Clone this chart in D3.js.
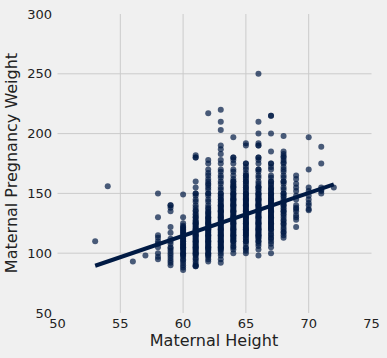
<!DOCTYPE html>
<html>
<head>
<meta charset="utf-8">
<script src="https://cdn.jsdelivr.net/npm/d3@7"></script>
<style>
  body { margin: 0; background: #f0f0f0; }
  text { font-family: "DejaVu Sans", sans-serif; fill: #222; }
</style>
</head>
<body>
<div id="chart"></div>
<script>
// maternal height (inches) and the pregnancy weights (lbs) seen in each column
const heights = [53, 54, 56, 57, 58, 59, 60, 61, 62, 63, 64, 65, 66, 67, 68, 69, 70, 71, 72];
const weights = [
  [110],
  [156],
  [93],
  [98],
  [150, 130, 115, 113, 110, 108, 105, 100, 97, 95],
  [140, 140, 138, 135, 122, 117, 112, 110, 108, 105, 104, 102, 100, 98, 96, 94, 92, 90],
  [149, 130, 125, 123, 122, 121, 120, 119, 118, 117, 116, 115, 114, 113, 112, 111, 110, 110, 108, 108, 107, 106, 105, 105, 104, 103, 102, 100, 100, 99, 98, 97, 95, 94, 92, 90, 88, 86],
  [182, 180, 180, 160, 155, 150, 150, 148, 145, 143, 140, 138, 136, 135, 133, 132, 130, 130, 128, 127, 126, 125, 125, 124, 123, 122, 121, 120, 120, 119, 118, 117, 116, 115, 115, 114, 113, 112, 111, 110, 110, 109, 108, 107, 106, 105, 105, 104, 103, 102, 101, 100, 100, 99, 98, 96, 95, 93, 91, 90, 89, 89],
  [217, 178, 175, 170, 167, 165, 162, 160, 158, 157, 155, 153, 150, 150, 148, 145, 143, 140, 138, 137, 135, 134, 133, 132, 130, 130, 129, 128, 127, 126, 125, 125, 124, 123, 122, 121, 120, 120, 119, 118, 117, 116, 115, 115, 114, 113, 112, 111, 110, 110, 109, 108, 107, 106, 105, 105, 104, 103, 102, 100, 100, 99, 98, 97, 95, 93],
  [220, 210, 203, 190, 187, 183, 178, 175, 170, 168, 165, 163, 160, 158, 155, 153, 150, 150, 148, 147, 145, 145, 143, 142, 140, 140, 139, 138, 137, 136, 135, 135, 134, 133, 132, 131, 130, 130, 129, 128, 127, 126, 125, 125, 124, 123, 122, 121, 120, 120, 119, 118, 117, 116, 115, 115, 114, 113, 112, 111, 110, 110, 109, 108, 107, 106, 105, 105, 104, 103, 102, 100, 98, 95, 92],
  [197, 180, 180, 178, 175, 170, 168, 165, 162, 160, 160, 158, 157, 156, 155, 155, 153, 152, 150, 150, 149, 148, 147, 146, 145, 145, 144, 143, 142, 141, 140, 140, 139, 138, 137, 136, 135, 135, 134, 133, 132, 131, 130, 130, 129, 128, 127, 126, 125, 125, 124, 123, 122, 121, 120, 120, 119, 118, 117, 116, 115, 115, 114, 113, 112, 111, 110, 110, 108, 106, 105, 103, 100],
  [192, 190, 175, 175, 172, 170, 167, 165, 165, 163, 162, 160, 160, 158, 157, 155, 155, 153, 152, 150, 150, 149, 148, 147, 146, 145, 145, 144, 143, 142, 141, 140, 140, 139, 138, 137, 136, 135, 135, 134, 133, 132, 131, 130, 130, 129, 128, 127, 126, 125, 125, 124, 123, 122, 121, 120, 120, 119, 118, 117, 116, 115, 115, 113, 112, 110, 110, 108, 105, 104, 102, 100],
  [250, 210, 200, 192, 190, 190, 180, 180, 178, 175, 170, 170, 168, 165, 163, 160, 158, 156, 155, 155, 153, 152, 150, 150, 149, 148, 147, 146, 145, 145, 144, 143, 142, 141, 140, 140, 139, 138, 137, 136, 135, 135, 134, 133, 132, 131, 130, 130, 129, 128, 127, 126, 125, 125, 124, 123, 122, 121, 120, 120, 119, 118, 117, 116, 115, 115, 114, 113, 112, 110, 110, 108, 106, 103, 98],
  [215, 215, 200, 185, 175, 175, 172, 170, 165, 163, 160, 160, 158, 157, 155, 154, 153, 152, 150, 150, 149, 148, 147, 146, 145, 145, 144, 143, 142, 141, 140, 140, 139, 138, 137, 136, 135, 135, 134, 133, 132, 131, 130, 130, 129, 128, 127, 126, 125, 125, 124, 123, 122, 121, 120, 120, 118, 116, 115, 113, 112, 110, 108, 105, 100],
  [198, 185, 183, 181, 180, 178, 176, 175, 172, 170, 168, 165, 163, 160, 160, 158, 155, 153, 150, 150, 148, 147, 145, 143, 142, 140, 140, 138, 137, 135, 135, 133, 132, 130, 128, 127, 125, 124, 122, 120, 118, 117, 115, 113],
  [165, 162, 158, 155, 152, 148, 145, 140, 138, 137, 135, 132, 130, 128, 122],
  [197, 170, 155, 152, 148, 145, 142, 140, 137, 136],
  [189, 175, 155, 153, 152, 150],
  [155]
];

// fitted regression line end points
const fitX = [53, 72];
const fitY = [89.5, 157.5];

const xTicks = [50, 55, 60, 65, 70, 75];
const yTicks = [50, 100, 150, 200, 250, 300];

let w = 387;
let h = 358;

let svg = d3.select("#chart").append("svg")
  .attr("width", w)
  .attr("height", h)

svg.append("rect")
  .attr("width", w)
  .attr("height", h)
  .attr("fill", "#f0f0f0");

var x = d3.scaleLinear().domain([50, 75]).range([57.5, 371.5]);
var y = d3.scaleLinear().domain([50, 300]).range([313, 14]);

// grid (interior lines only)
svg.append("g")
  .selectAll("line")
  .data(xTicks.slice(1, -1))
  .enter()
  .append("line")
  .attr("x1", d => x(d)).attr("x2", d => x(d))
  .attr("y1", y(300)).attr("y2", y(50))
  .attr("stroke", "#cbcbcb")
  .attr("stroke-width", 1);

svg.append("g")
  .selectAll("line")
  .data(yTicks.slice(1, -1))
  .enter()
  .append("line")
  .attr("x1", x(50)).attr("x2", x(75))
  .attr("y1", d => y(d)).attr("y2", d => y(d))
  .attr("stroke", "#cbcbcb")
  .attr("stroke-width", 1);

// tick labels
svg.append("g")
  .selectAll("text")
  .data(xTicks)
  .enter()
  .append("text")
  .attr("x", d => x(d))
  .attr("y", 328)
  .attr("text-anchor", "middle")
  .style("font-size", "13px")
  .text(d => d);

svg.append("g")
  .selectAll("text")
  .data(yTicks)
  .enter()
  .append("text")
  .attr("x", 52)
  .attr("y", d => y(d))
  .attr("dy", "0.36em")
  .attr("text-anchor", "end")
  .style("font-size", "13px")
  .text(d => d);

// points
let points = [];
heights.forEach((ht, i) => weights[i].forEach(wt => points.push([ht, wt])));

svg.append("g")
  .selectAll("circle")
  .data(points)
  .enter()
  .append("circle")
  .attr("cx", d => x(d[0]))
  .attr("cy", d => y(d[1]))
  .attr("r", 3)
  .attr("fill", "#001a44")
  .attr("fill-opacity", 0.7);

// fit line
svg.append("path")
  .datum(fitX.map((v, i) => [v, fitY[i]]))
  .attr("d", d3.line().x(d => x(d[0])).y(d => y(d[1])))
  .attr("stroke", "#001a44")
  .attr("stroke-width", 4)
  .attr("fill", "none");

// axis labels
svg.append("text")
  .attr("x", 214)
  .attr("y", 346)
  .attr("text-anchor", "middle")
  .style("font-size", "16px")
  .text("Maternal Height");

svg.append("text")
  .attr("transform", "translate(17,163) rotate(-90)")
  .attr("text-anchor", "middle")
  .style("font-size", "16px")
  .text("Maternal Pregnancy Weight");
</script>
</body>
</html>
